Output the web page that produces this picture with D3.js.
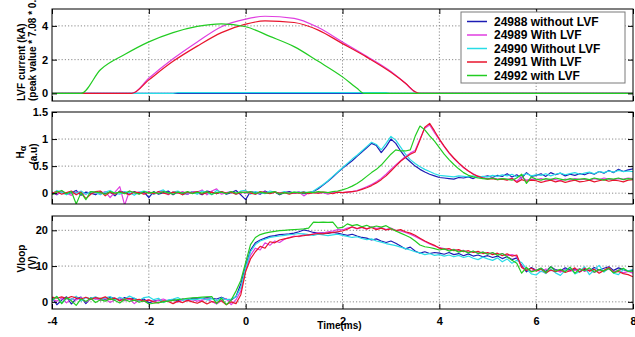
<!DOCTYPE html>
<html>
<head>
<meta charset="utf-8">
<script src="https://cdn.jsdelivr.net/npm/d3@7"></script>
<style>
  body { margin: 0; background: #fff; }
  text { font-family: "Liberation Sans", Arial, sans-serif; font-weight: bold; fill: #000; }
</style>
</head>
<body>
<svg id="chart" width="635" height="337"></svg>
<script>
// shots and their colours, in legend order
const shots = ['24988 without LVF', '24989 With LVF', '24990 Without LVF', '24991 With LVF', '24992 with LVF'];
const shotColors = ['#1c1cb4', '#e03ee0', '#28dce6', '#e8142c', '#22cc22'];

const xTicks = [-4, -2, 0, 2, 4, 6, 8];
const lvfTicks = [0, 2, 4];
const haTicks = [0, 0.5, 1, 1.5];
const vloopTicks = [0, 10, 20];

// LVF current (kA), sparse samples of the smooth waveforms
const lvfTime24988 = [-4, 8];
const lvf24988 = [0, 0];
const lvfTime24989 = [-4, -2.35, -2, -1.5, -1, -0.5, 0, 0.4, 1, 1.5, 2, 2.5, 3, 3.3, 3.5, 3.6, 8];
const lvf24989 = [0, 0, 0.9, 2.05, 3.05, 3.95, 4.4, 4.57, 4.45, 3.9, 3.05, 2.2, 1.3, 0.6, 0.08, 0, 0];
const lvfTime24990 = [-4, -1.5, -1.4, 2.9, 3.0, 8];
const lvf24990 = [0, 0, 0.05, 0.05, 0, 0];
const lvfTime24991 = [-4, -2.35, -2, -1.5, -1, -0.5, 0, 0.4, 1, 1.5, 2, 2.5, 3, 3.3, 3.5, 3.6, 8];
const lvf24991 = [0, 0, 0.8, 1.9, 2.8, 3.6, 4.1, 4.3, 4.2, 3.75, 2.95, 2.15, 1.25, 0.6, 0.1, 0, 0];
const lvfTime24992 = [-4, -3.4, -3, -2.5, -2, -1.5, -1, -0.5, 0, 0.5, 1, 1.5, 2, 2.3, 2.45, 8];
const lvf24992 = [0, 0, 1.4, 2.3, 3.05, 3.6, 3.97, 4.12, 3.95, 3.38, 2.77, 1.9, 0.98, 0.3, 0, 0];

// common time base (ms) for H-alpha and Vloop
const time = [
  -4.0, -3.9, -3.8, -3.7, -3.6, -3.5, -3.4, -3.3, -3.2, -3.1,
  -3.0, -2.9, -2.8, -2.7, -2.6, -2.5, -2.4, -2.3, -2.2, -2.1,
  -2.0, -1.9, -1.8, -1.7, -1.6, -1.5, -1.4, -1.3, -1.2, -1.1,
  -1.0, -0.9, -0.8, -0.7, -0.6, -0.5, -0.4, -0.3, -0.2, -0.1,
  0.0, 0.1, 0.2, 0.3, 0.4, 0.5, 0.6, 0.7, 0.8, 0.9,
  1.0, 1.1, 1.2, 1.3, 1.4, 1.5, 1.6, 1.7, 1.8, 1.9,
  2.0, 2.1, 2.2, 2.3, 2.4, 2.5, 2.6, 2.7, 2.8, 2.9,
  3.0, 3.1, 3.2, 3.3, 3.4, 3.5, 3.6, 3.7, 3.8, 3.9,
  4.0, 4.1, 4.2, 4.3, 4.4, 4.5, 4.6, 4.7, 4.8, 4.9,
  5.0, 5.1, 5.2, 5.3, 5.4, 5.5, 5.6, 5.7, 5.8, 5.9,
  6.0, 6.1, 6.2, 6.3, 6.4, 6.5, 6.6, 6.7, 6.8, 6.9,
  7.0, 7.1, 7.2, 7.3, 7.4, 7.5, 7.6, 7.7, 7.8, 7.9,
  8.0
];

// H-alpha (a.u)
const ha24988 = [
  0.02, -0.03, 0.04, -0.02, 0.01, 0.05, -0.04, 0.02, 0.00, -0.03,
  0.03, -0.01, 0.02, -0.05, 0.04, 0.01, -0.02, 0.03, -0.01, 0.02,
  -0.08, 0.03, -0.02, 0.01, 0.04, -0.03, 0.02, 0.00, -0.02, 0.03,
  0.01, -0.03, 0.04, 0.02, -0.01, 0.03, -0.02, 0.01, 0.05, -0.03,
  -0.12, 0.03, 0.01, -0.02, 0.04, 0.00, 0.02, -0.03, 0.01, 0.03,
  0.00, 0.02, -0.01, 0.01, 0.03, 0.08, 0.15, 0.22, 0.30, 0.38,
  0.46, 0.53, 0.60, 0.68, 0.76, 0.84, 0.92, 0.88, 0.75, 0.86,
  1.00, 0.92, 0.78, 0.66, 0.58, 0.50, 0.44, 0.39, 0.35, 0.32,
  0.29, 0.28, 0.27, 0.26, 0.29, 0.28, 0.30, 0.27, 0.31, 0.30,
  0.32, 0.29, 0.33, 0.31, 0.36, 0.30, 0.34, 0.28, 0.38, 0.31,
  0.33, 0.36, 0.31, 0.38, 0.34, 0.37, 0.32, 0.35, 0.33, 0.36,
  0.34, 0.38, 0.35, 0.40, 0.37, 0.42, 0.38, 0.44, 0.40, 0.43,
  0.45
];
const ha24989 = [
  0.01, -0.02, 0.03, 0.00, -0.04, 0.02, 0.01, -0.02, 0.03, 0.00,
  -0.01, 0.03, -0.08, 0.02, 0.12, -0.22, 0.04, 0.00, 0.02, -0.01,
  0.03, -0.02, 0.01, 0.04, -0.03, 0.02, 0.00, 0.03, -0.02, 0.03,
  0.02, 0.06, -0.03, 0.04, 0.08, -0.02, 0.01, 0.03, -0.01, 0.02,
  0.00, 0.03, -0.02, 0.01, 0.02, 0.00, 0.03, -0.01, 0.02, 0.01,
  0.00, 0.02, -0.05, 0.01, 0.02, 0.00, 0.01, -0.02, 0.01, 0.02,
  0.01, 0.02, 0.03, 0.05, 0.08, 0.12, 0.16, 0.21, 0.27, 0.35,
  0.44, 0.52, 0.60, 0.68, 0.74, 0.79, 1.00, 1.20, 1.26, 1.12,
  0.99, 0.86, 0.74, 0.64, 0.55, 0.47, 0.41, 0.36, 0.31, 0.29,
  0.27, 0.28, 0.26, 0.27, 0.25, 0.28, 0.22, 0.30, 0.24, 0.26,
  0.25, 0.27, 0.24, 0.26, 0.25, 0.23, 0.26, 0.24, 0.27, 0.25,
  0.26, 0.24, 0.27, 0.25, 0.28, 0.26, 0.25, 0.27, 0.26, 0.28,
  0.27
];
const ha24990 = [
  -0.02, 0.05, 0.01, -0.03, 0.03, 0.00, 0.04, -0.02, 0.03, 0.01,
  -0.03, 0.02, 0.05, 0.00, -0.02, 0.03, 0.01, -0.04, 0.02, 0.04,
  0.01, -0.02, 0.03, 0.06, -0.01, 0.02, 0.04, -0.03, 0.01, 0.02,
  -0.02, 0.04, 0.01, -0.03, 0.05, 0.02, 0.00, 0.03, -0.02, 0.04,
  0.05, -0.02, 0.03, 0.01, -0.01, 0.04, 0.02, 0.00, 0.03, -0.01,
  0.02, 0.01, 0.03, 0.00, 0.04, 0.10, 0.16, 0.23, 0.31, 0.39,
  0.47, 0.55, 0.63, 0.70, 0.78, 0.86, 0.94, 0.90, 0.80, 0.92,
  1.05, 0.98, 0.85, 0.72, 0.62, 0.55, 0.49, 0.44, 0.40, 0.36,
  0.33, 0.32, 0.31, 0.30, 0.32, 0.31, 0.30, 0.32, 0.29, 0.31,
  0.30, 0.33, 0.31, 0.34, 0.32, 0.35, 0.30, 0.33, 0.36, 0.32,
  0.34, 0.33, 0.36, 0.32, 0.35, 0.37, 0.34, 0.36, 0.38, 0.35,
  0.37, 0.39, 0.36, 0.40, 0.38, 0.41, 0.39, 0.42, 0.40, 0.41,
  0.40
];
const ha24991 = [
  0.00, 0.03, -0.02, 0.01, 0.04, -0.03, 0.02, -0.10, -0.02, 0.03,
  0.04, -0.05, 0.02, -0.02, 0.03, 0.00, -0.03, 0.02, 0.01, -0.02,
  0.02, -0.01, 0.03, 0.00, -0.02, 0.02, 0.01, -0.03, 0.02, 0.00,
  0.03, -0.02, 0.01, 0.02, -0.01, 0.03, 0.00, 0.02, -0.02, 0.01,
  0.02, 0.00, -0.02, 0.03, 0.01, -0.01, 0.02, 0.00, 0.01, -0.02,
  0.01, 0.00, 0.02, -0.01, 0.01, 0.00, 0.02, 0.01, -0.01, 0.02,
  0.01, 0.02, 0.03, 0.04, 0.07, 0.10, 0.14, 0.19, 0.25, 0.32,
  0.41, 0.50, 0.59, 0.66, 0.72, 0.76, 0.98, 1.22, 1.29, 1.15,
  1.00, 0.87, 0.75, 0.65, 0.56, 0.48, 0.41, 0.35, 0.31, 0.28,
  0.26, 0.27, 0.25, 0.26, 0.24, 0.27, 0.20, 0.25, 0.22, 0.24,
  0.23, 0.20, 0.22, 0.24, 0.21, 0.23, 0.20, 0.22, 0.24, 0.21,
  0.22, 0.24, 0.21, 0.23, 0.25, 0.22, 0.24, 0.23, 0.21, 0.24,
  0.25
];
const ha24992 = [
  -0.03, 0.02, 0.05, -0.01, 0.03, -0.20, 0.01, -0.12, 0.03, 0.02,
  0.01, -0.02, 0.03, 0.00, 0.02, -0.01, 0.04, 0.01, -0.02, 0.03,
  0.00, 0.02, -0.01, 0.03, 0.01, -0.02, 0.02, 0.00, 0.03, -0.01,
  0.02, 0.00, 0.03, -0.02, 0.01, 0.02, -0.01, 0.03, 0.00, 0.02,
  0.01, 0.03, -0.01, 0.02, 0.00, 0.01, 0.03, -0.02, 0.01, 0.00,
  0.02, 0.01, 0.00, 0.02, 0.01, 0.03, 0.02, 0.01, 0.03, 0.04,
  0.06, 0.09, 0.13, 0.18, 0.24, 0.31, 0.38, 0.44, 0.52, 0.62,
  0.72, 0.80, 0.78, 0.78, 0.80, 1.05, 1.24, 1.17, 1.06, 0.96,
  0.84, 0.72, 0.62, 0.53, 0.45, 0.38, 0.33, 0.30, 0.28, 0.27,
  0.26, 0.28, 0.25, 0.27, 0.26, 0.24, 0.28, 0.35, 0.18, 0.30,
  0.26, 0.24, 0.27, 0.25, 0.28, 0.26, 0.24, 0.27, 0.25, 0.26,
  0.27, 0.25, 0.28, 0.26, 0.24, 0.27, 0.26, 0.28, 0.25, 0.27,
  0.26
];

// Vloop (V)
const vloop24988 = [
  1.2, -0.8, 0.5, 1.4, -0.6, 0.9, 1.3, -0.5, 1.1, 0.8,
  1.0, 0.6, 1.3, 0.9, 0.4, 1.2, 0.7, 1.0, 0.3, 0.8,
  -0.3, 0.2, 0.5, 0.1, 0.4, 0.6, 0.3, 0.8, 0.5, 1.0,
  1.1, 0.9, 1.2, 1.0, 0.8, 1.3, 0.7, 0.5, 1.5, 5.0,
  10.0, 14.5, 16.5, 17.3, 17.8, 18.3, 18.5, 18.8, 18.9, 19.0,
  19.2, 19.6, 20.1, 19.8, 19.4, 19.2, 19.3, 19.1, 19.4, 19.2,
  18.9, 18.6, 18.9, 18.4, 18.0, 17.8, 17.3, 17.6, 17.0, 16.6,
  17.0, 16.4, 15.6, 14.8, 15.3, 14.2, 13.6, 14.0, 13.5, 13.8,
  13.6, 13.3, 13.8, 13.2, 13.5, 12.9, 13.4, 12.8, 13.1, 12.6,
  12.9, 12.4, 12.8, 12.1, 12.6, 11.8, 12.3, 10.2, 8.4, 9.6,
  8.8, 9.4, 8.5, 9.8, 9.0, 8.6, 9.5, 8.9, 9.2, 8.4,
  9.1, 8.7, 9.6, 8.9, 9.4, 9.8, 8.8, 9.5, 9.0, 8.6,
  8.9
];
const vloop24989 = [
  0.8, 0.2, 1.1, -0.3, 0.9, 0.5, 1.2, 0.0, 0.7, 1.0,
  0.4, 0.9, -0.2, 0.6, 1.1, 0.3, 0.8, -0.5, 0.5, 0.2,
  0.6, 0.1, 0.4, 0.8, 0.2, 0.5, -0.1, 0.7, 0.3, 0.6,
  0.2, 0.5, 0.8, 0.1, -0.6, 0.4, 0.9, -0.8, 0.6, 3.0,
  9.0, 13.0, 15.0, 14.5, 16.5, 15.8, 17.0, 16.6, 17.5, 18.0,
  18.4, 18.2, 18.8, 18.6, 19.0, 19.3, 19.2, 19.6, 19.8, 20.2,
  20.1, 20.6, 20.9, 20.4, 20.8, 20.3, 21.0, 20.5, 20.8, 20.2,
  20.6, 20.0, 19.8, 19.4, 18.9, 18.3, 17.6, 16.9, 16.2, 15.6,
  15.2, 14.9, 14.5, 14.7, 14.2, 14.4, 13.8, 14.1, 13.6, 13.9,
  13.4, 13.7, 13.1, 13.5, 12.9, 13.2, 12.7, 9.8, 9.0, 8.6,
  9.0, 8.4, 9.2, 8.7, 8.9, 8.3, 9.1, 8.6, 8.8, 9.3,
  8.5, 9.0, 8.2, 8.8, 8.6, 9.2, 8.4, 8.9, 8.1, 8.5,
  8.0
];
const vloop24990 = [
  0.3, 1.5, -0.4, 1.0, 0.6, 1.6, 0.2, 1.2, 0.9, 1.4,
  0.7, 1.1, 1.5, 0.5, 1.3, 0.8, 1.6, 1.0, 0.4, 1.2,
  1.4, 0.6, 1.0, -0.2, 0.5, 0.8, 1.2, 0.4, 0.9, 0.6,
  0.7, 1.0, 0.5, 0.9, 0.3, 1.1, 0.6, 0.8, 1.4, 4.0,
  9.5, 14.0, 16.0, 17.0, 17.5, 18.0, 18.2, 18.4, 18.6, 18.8,
  18.9, 19.1, 19.0, 18.8, 18.6, 18.9, 18.7, 18.5, 18.7, 18.9,
  18.6, 18.3, 18.0, 18.2, 17.7, 17.4, 17.6, 17.0, 16.7, 16.3,
  16.0, 15.7, 15.3, 14.9, 14.5, 14.0, 13.7, 13.2, 13.5, 13.0,
  13.2, 12.8, 13.1, 12.6, 13.0, 12.4, 12.8, 12.2, 11.8, 12.5,
  12.0, 11.6, 12.3, 11.2, 12.0, 10.8, 11.6, 11.0, 9.2, 7.8,
  7.5, 8.6, 7.9, 9.2, 8.1, 7.4, 8.8, 9.6, 7.8, 8.5,
  9.8, 7.6, 8.9, 10.2, 8.3, 9.5, 8.0, 7.6, 9.1, 8.7,
  9.0
];
const vloop24991 = [
  1.3, 1.0, 1.4, 0.9, 1.5, 1.1, 0.8, 1.3, 0.7, 1.2,
  0.9, 1.4, 0.6, 1.1, 0.3, 0.8, 1.0, 0.4, 0.7, 0.2,
  0.5, 0.0, -0.3, 0.3, 0.1, -0.5, 0.2, -0.2, 0.4, 0.0,
  -0.4, 0.2, -0.6, 0.1, -0.2, 0.3, -0.8, 0.0, -0.5, 2.0,
  8.5, 12.0, 14.0, 15.5, 15.0, 16.8, 16.5, 17.3, 17.6, 17.9,
  18.2, 18.4, 18.5, 18.7, 18.9, 19.1, 19.0, 19.3, 19.4, 19.6,
  19.8, 20.3, 21.0, 20.5, 20.9, 20.4, 20.8, 20.2, 20.6, 20.1,
  20.4, 19.9, 20.2, 19.6, 19.2, 18.6, 17.8, 17.0, 16.4, 15.8,
  15.0, 14.7, 14.9, 14.3, 14.6, 14.0, 14.3, 13.8, 14.1, 13.5,
  13.8, 13.2, 13.6, 12.9, 13.4, 12.8, 13.1, 9.6, 8.8, 9.4,
  8.6, 9.2, 8.1, 8.9, 8.4, 9.0, 8.2, 8.7, 9.5, 8.3,
  9.4, 8.6, 9.1, 8.0, 8.8, 9.6, 8.2, 8.5, 7.9, 7.6,
  7.0
];
const vloop24992 = [
  0.5, 1.5, -0.5, 1.2, 0.3, -1.0, 0.8, 0.1, 1.0, -0.2,
  0.6, 0.2, 0.9, 0.4, -0.3, 0.7, 0.1, 0.5, -0.1, 0.3,
  -0.6, -0.4, -0.2, 0.0, 0.2, 0.4, 0.6, 0.8, 1.0, 1.1,
  1.2, 1.3, 1.4, 1.5, -0.5, 1.0, -0.8, 0.5, 3.0, 6.0,
  11.0, 16.0, 18.0, 18.8, 19.2, 19.5, 19.7, 19.9, 20.0, 20.1,
  20.2, 20.3, 20.4, 20.6, 22.3, 22.2, 22.3, 22.2, 22.3, 20.6,
  20.8, 21.8, 21.3, 21.6, 21.0, 21.4, 20.8, 21.2, 20.9, 21.3,
  20.5, 19.8, 19.2, 18.6, 18.0, 17.0, 15.9, 15.4, 15.2, 14.9,
  14.5, 14.8, 14.2, 14.6, 13.9, 14.3, 13.7, 14.2, 13.5, 13.9,
  13.3, 13.8, 13.0, 13.5, 12.6, 11.6, 10.8, 8.0, 9.6, 8.4,
  8.8, 9.4, 8.2, 9.8, 8.6, 9.1, 8.4, 9.7, 8.0, 9.2,
  8.7, 9.5, 8.3, 9.0, 8.6, 9.3, 8.1, 8.8, 9.4, 8.5,
  8.6
];

// ---------------------------------------------------------------
const svg = d3.select('#chart');
const left = 52, right = 633;
const plain = d => String(d); // hyphen minus like the original, not U+2212

const x = d3.scaleLinear().domain([-4, 8]).range([left, right]);

const panels = [
  {
    top: 9, bottom: 101, domain: [-0.45, 5], ticks: lvfTicks, curve: d3.curveMonotoneX,
    series: [
      [lvfTime24988, lvf24988], [lvfTime24989, lvf24989], [lvfTime24990, lvf24990],
      [lvfTime24991, lvf24991], [lvfTime24992, lvf24992]
    ],
    label: ['LVF current (kA)', '(peak value * 7.08 * 0.1)']
  },
  {
    top: 112, bottom: 204, domain: [-0.2, 1.5], ticks: haTicks, curve: d3.curveLinear,
    series: [ha24988, ha24989, ha24990, ha24991, ha24992].map(v => [time, v]),
    label: null
  },
  {
    top: 216, bottom: 309, domain: [-2, 24], ticks: vloopTicks, curve: d3.curveLinear,
    series: [vloop24988, vloop24989, vloop24990, vloop24991, vloop24992].map(v => [time, v]),
    label: ['Vloop', '(V)'], xLabels: true
  }
];

panels.forEach((p, pi) => {
  const y = d3.scaleLinear().domain(p.domain).range([p.bottom, p.top]);
  const g = svg.append('g');

  const clipId = 'clip' + pi;
  svg.append('clipPath').attr('id', clipId)
    .append('rect')
    .attr('x', left).attr('y', p.top)
    .attr('width', right - left).attr('height', p.bottom - p.top);

  // dotted grid
  g.selectAll('.gx')
    .data(xTicks.filter(t => t > -4 && t < 8))
    .enter().append('line')
    .attr('x1', d => x(d)).attr('x2', d => x(d))
    .attr('y1', p.top).attr('y2', p.bottom)
    .attr('stroke', '#8a8a8a').attr('stroke-dasharray', '1.2,2');
  g.selectAll('.gy')
    .data(p.ticks.filter(t => y(t) < p.bottom - 1 && y(t) > p.top + 1))
    .enter().append('line')
    .attr('x1', left).attr('x2', right)
    .attr('y1', d => y(d)).attr('y2', d => y(d))
    .attr('stroke', '#8a8a8a').attr('stroke-dasharray', '1.2,2');

  // traces
  const line = d3.line()
    .x(d => x(d[0]))
    .y(d => y(d[1]))
    .curve(p.curve);
  const traces = g.append('g').attr('clip-path', `url(#${clipId})`);
  p.series.forEach((s, i) => {
    const pts = s[0].map((t, k) => [t, s[1][k]]);
    traces.append('path')
      .datum(pts)
      .attr('d', line)
      .attr('fill', 'none')
      .attr('stroke', shotColors[i])
      .attr('stroke-width', 1.2)
      .attr('stroke-linejoin', 'round');
  });

  // axes with inward ticks (matlab style)
  const yl = g.append('g').attr('transform', `translate(${left},0)`)
    .call(d3.axisLeft(y).tickValues(p.ticks).tickSize(-5).tickSizeOuter(0).tickPadding(4)
      .tickFormat(plain));
  const yr = g.append('g').attr('transform', `translate(${right},0)`)
    .call(d3.axisRight(y).tickValues(p.ticks).tickSize(-5).tickSizeOuter(0).tickFormat(''));
  const xt = g.append('g').attr('transform', `translate(0,${p.top})`)
    .call(d3.axisTop(x).tickValues(xTicks).tickSize(-5).tickSizeOuter(0).tickFormat(''));
  const xb = g.append('g').attr('transform', `translate(0,${p.bottom})`)
    .call(d3.axisBottom(x).tickValues(xTicks).tickSize(-5).tickSizeOuter(0).tickPadding(8)
      .tickFormat(p.xLabels ? plain : ''));
  [yl, yr, xt, xb].forEach(a => {
    a.select('.domain').remove();
    a.selectAll('line').attr('stroke', '#000');
    a.selectAll('text').style('font-size', '11px').attr('fill', '#000');
  });

  g.append('rect')
    .attr('x', left).attr('y', p.top)
    .attr('width', right - left).attr('height', p.bottom - p.top)
    .attr('fill', 'none').attr('stroke', '#000').attr('stroke-width', 1);

  // y label (two lines)
  const cy = (p.top + p.bottom) / 2;
  if (pi === 0) {
    p.label.forEach((txt, k) => {
      svg.append('text')
        .attr('transform', `translate(${24.5 + k * 11},${p.bottom}) rotate(-90)`)
        .attr('text-anchor', 'start')
        .style('font-size', '10px')
        .text(txt);
    });
  } else if (pi === 1) {
    const h = svg.append('text')
      .attr('transform', `translate(23.5,${cy - 6}) rotate(-90)`)
      .attr('text-anchor', 'middle')
      .style('font-size', '10px');
    h.append('tspan').text('H');
    h.append('tspan').attr('dy', 2).style('font-size', '9px').text('α');
    svg.append('text')
      .attr('transform', `translate(36.5,${cy - 4}) rotate(-90)`)
      .attr('text-anchor', 'middle')
      .style('font-size', '10px')
      .text('(a.u)');
  } else {
    p.label.forEach((txt, k) => {
      svg.append('text')
        .attr('transform', `translate(${24.5 + k * 11},${cy - 4 + k * 4}) rotate(-90)`)
        .attr('text-anchor', 'middle')
        .style('font-size', '10px')
        .text(txt);
    });
  }
});

// x axis title
svg.append('text')
  .attr('x', 339.5).attr('y', 329)
  .attr('text-anchor', 'middle')
  .style('font-size', '10px')
  .text('Time(ms)');

// legend
const legend = svg.append('g').attr('transform', 'translate(461,12)');
legend.append('rect')
  .attr('width', 164).attr('height', 71)
  .attr('fill', '#fff').attr('stroke', '#7a7a7a').attr('stroke-width', 1);
shots.forEach((name, i) => {
  const ly = 9.5 + i * 13.5;
  legend.append('line')
    .attr('x1', 6).attr('x2', 26).attr('y1', ly).attr('y2', ly)
    .attr('stroke', shotColors[i]).attr('stroke-width', 1.5);
  legend.append('text')
    .attr('x', 33).attr('y', ly + 4.3)
    .style('font-size', '12px')
    .text(name);
});
</script>
</body>
</html>
